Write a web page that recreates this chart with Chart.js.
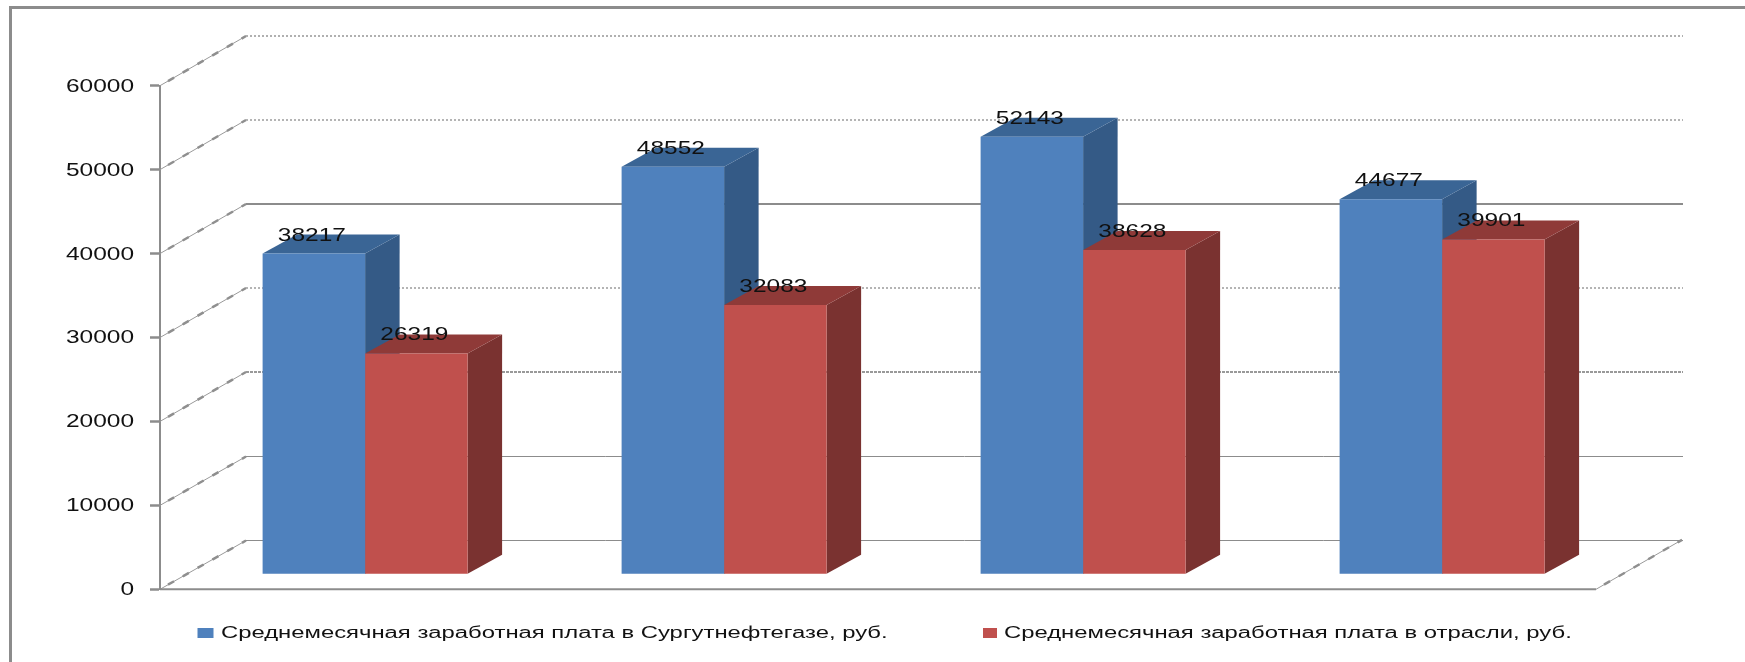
<!DOCTYPE html>
<html lang="ru">
<head>
<meta charset="utf-8">
<title>Среднемесячная заработная плата</title>
<script src="https://cdn.jsdelivr.net/npm/chart.js@4"></script>
<style>
  html, body { margin: 0; padding: 0; background: #fff; }
  canvas { display: block; }
</style>
</head>
<body>
<canvas id="salaryChart" width="1745" height="662"></canvas>
<script>
// chart values
const categories = ['', '', '', ''];
const salarySurgut = [38217, 48552, 52143, 44677];
const salaryIndustry = [26319, 32083, 38628, 39901];
const seriesNames = [
  'Среднемесячная заработная плата в Сургутнефтегазе, руб.',
  'Среднемесячная заработная плата в отрасли, руб.'
];

// look of the fake 3D box
const WALL = { dx: 86, dy: -49.5 };
const BAR_SHIFT = { dx: 25.6, dy: -15 };
const BAR_DEPTH = { dx: 34.5, dy: -19 };
const GRAY = '#8c8c8c';
const FONT = 'Liberation Sans';
const STRETCH = 1.36;

// wall line style per tick, the source picture has them all a bit different
const wallLines = {
  60000: { width: 2, dash: [2, 2], color: '#b0b0b0' },
  50000: { width: 2, dash: [2, 2], color: '#b4b4b4' },
  40000: { width: 2, dash: [], color: GRAY },
  30000: { width: 2, dash: [2, 2], color: '#b4b4b4' },
  20000: { width: 2, dash: [3, 1], color: '#999' },
  10000: { width: 1, dash: [], color: '#8c8c8c' },
  0: { width: 1, dash: [], color: '#8c8c8c' }
};

// the picture is stretched sideways, so text is stretched too
function wideText(ctx, text, x, y, size, align, sx) {
  ctx.save();
  ctx.translate(x, y);
  ctx.scale(sx, 1);
  ctx.font = size + 'px "' + FONT + '"';
  ctx.fillStyle = '#111';
  ctx.textAlign = align;
  ctx.textBaseline = 'middle';
  ctx.fillText(text, 0, 0);
  ctx.restore();
}

function quad(ctx, pts, color) {
  ctx.fillStyle = color;
  ctx.beginPath();
  ctx.moveTo(pts[0][0], pts[0][1]);
  for (let i = 1; i < pts.length; i++) ctx.lineTo(pts[i][0], pts[i][1]);
  ctx.closePath();
  ctx.fill();
}

const box3d = {
  id: 'box3d',
  beforeDatasetsDraw(chart) {
    const ctx = chart.ctx;
    const y = chart.scales.y;
    const area = chart.chartArea;

    // outer frame, left and top only
    ctx.save();
    ctx.strokeStyle = GRAY;
    ctx.lineWidth = 3;
    ctx.beginPath();
    ctx.moveTo(10.5, 662);
    ctx.lineTo(10.5, 7.5);
    ctx.lineTo(1745, 7.5);
    ctx.stroke();

    // side wall and back wall
    y.ticks.forEach(t => {
      const py = y.getPixelForValue(t.value);
      const st = wallLines[t.value];
      const bx = area.left + WALL.dx;
      const by = Math.round(py + WALL.dy) + (st.width === 1 ? 0.5 : 0);

      ctx.setLineDash([]);
      ctx.lineWidth = 1;
      ctx.strokeStyle = '#999';
      ctx.beginPath();
      ctx.moveTo(area.left, py);
      ctx.lineTo(bx, by);
      ctx.stroke();
      ctx.setLineDash([7, 10]);
      ctx.lineWidth = 2.5;
      ctx.strokeStyle = '#8f8f8f';
      ctx.beginPath();
      ctx.moveTo(area.left + 8, py - 4.6);
      ctx.lineTo(bx, by);
      ctx.stroke();

      ctx.setLineDash(st.dash);
      ctx.lineWidth = st.width;
      ctx.strokeStyle = st.color;
      ctx.beginPath();
      ctx.moveTo(bx, by);
      ctx.lineTo(area.right + WALL.dx + 1, by);
      ctx.stroke();
    });

    // floor: front edge and right edge
    const py0 = y.getPixelForValue(0);
    ctx.setLineDash([]);
    ctx.lineWidth = 2;
    ctx.strokeStyle = GRAY;
    ctx.beginPath();
    ctx.moveTo(area.left, py0);
    ctx.lineTo(area.right, py0);
    ctx.stroke();
    ctx.lineWidth = 1;
    ctx.strokeStyle = '#999';
    ctx.beginPath();
    ctx.moveTo(area.right, py0);
    ctx.lineTo(area.right + WALL.dx, py0 + WALL.dy);
    ctx.stroke();
    ctx.setLineDash([7, 10]);
    ctx.lineWidth = 2.5;
    ctx.strokeStyle = '#8f8f8f';
    ctx.beginPath();
    ctx.moveTo(area.right + 8, py0 - 4.6);
    ctx.lineTo(area.right + WALL.dx, py0 + WALL.dy);
    ctx.stroke();
    ctx.restore();

    // tick labels
    y.ticks.forEach(t => {
      wideText(ctx, String(t.value), 134, y.getPixelForValue(t.value) + 1, 18, 'right', STRETCH);
    });

    // bars get moved into the box, side and top faces go first
    ctx.save();
    ctx.translate(BAR_SHIFT.dx, BAR_SHIFT.dy);
    chart.data.datasets.forEach((ds, i) => {
      chart.getDatasetMeta(i).data.forEach(bar => {
        const l = bar.x - bar.width / 2;
        const r = bar.x + bar.width / 2;
        const d = BAR_DEPTH;
        quad(ctx, [[r, bar.y], [r + d.dx, bar.y + d.dy], [r + d.dx, bar.base + d.dy], [r, bar.base]], ds.sideColor);
        quad(ctx, [[l, bar.y], [l + d.dx, bar.y + d.dy], [r + d.dx, bar.y + d.dy], [r, bar.y]], ds.topColor);
      });
    });
  },
  afterDatasetsDraw(chart) {
    const ctx = chart.ctx;
    ctx.restore();

    // value labels
    chart.data.datasets.forEach((ds, i) => {
      chart.getDatasetMeta(i).data.forEach((bar, j) => {
        wideText(ctx, String(ds.data[j]), bar.x + BAR_SHIFT.dx - 2, bar.y + BAR_SHIFT.dy - 18, 18, 'center', STRETCH);
      });
    });

    // legend
    const legendX = [197.5, 983];
    chart.data.datasets.forEach((ds, i) => {
      ctx.fillStyle = ds.backgroundColor;
      ctx.fillRect(legendX[i], 628, i === 0 ? 16 : 14, 10);
      wideText(ctx, ds.label, legendX[i] + (i === 0 ? 23.5 : 21), 634, 16, 'left', 1.49);
    });
  }
};

new Chart(document.getElementById('salaryChart'), {
  type: 'bar',
  data: {
    labels: categories,
    datasets: [
      { label: seriesNames[0], data: salarySurgut, backgroundColor: '#4f81bd', sideColor: '#345a86', topColor: '#3a6595', clip: false },
      { label: seriesNames[1], data: salaryIndustry, backgroundColor: '#c0504d', sideColor: '#7a3230', topColor: '#8f3a38', clip: false }
    ]
  },
  options: {
    responsive: false,
    animation: false,
    layout: { padding: { left: 0, top: 85.7, right: 149, bottom: 72.7 } },
    categoryPercentage: 0.571,
    barPercentage: 1,
    plugins: { legend: { display: false }, tooltip: { enabled: false } },
    scales: {
      x: { display: false },
      y: {
        min: 0,
        max: 60000,
        afterFit: s => { s.width = 160; },
        ticks: { stepSize: 10000, display: false },
        border: { color: GRAY, width: 2 },
        grid: { drawOnChartArea: false, drawTicks: true, tickLength: 10, tickWidth: 2.5, tickColor: GRAY }
      }
    }
  },
  plugins: [box3d]
});
</script>
</body>
</html>
